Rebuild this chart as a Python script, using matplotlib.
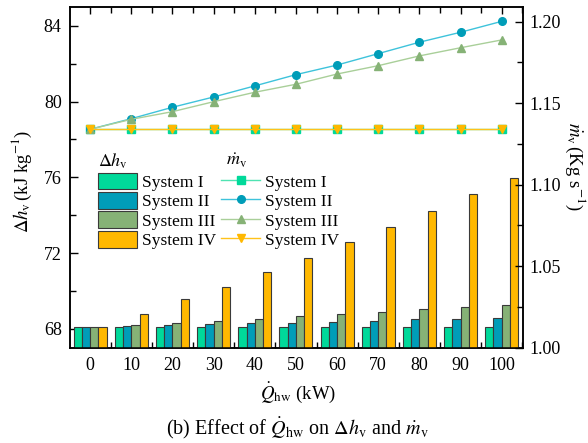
import matplotlib
matplotlib.use('Agg')
import matplotlib.pyplot as plt
import numpy as np
from matplotlib.ticker import MultipleLocator, FixedLocator

plt.rcParams['font.family'] = ['Liberation Serif', 'DejaVu Serif']
plt.rcParams['mathtext.fontset'] = 'stix'

# ---------------- data ----------------
q_hw = [0, 10, 20, 30, 40, 50, 60, 70, 80, 90, 100]
systems = ['System I', 'System II', 'System III', 'System IV']

dh_I = [68.07, 68.07, 68.07, 68.07, 68.07, 68.07, 68.07, 68.07, 68.07, 68.07, 68.07]
dh_II = [68.07, 68.14, 68.21, 68.25, 68.30, 68.32, 68.38, 68.42, 68.49, 68.54, 68.58]
dh_III = [68.07, 68.21, 68.30, 68.42, 68.54, 68.67, 68.77, 68.90, 69.04, 69.14, 69.25]
dh_IV = [68.07, 68.77, 69.56, 70.23, 70.98, 71.75, 72.56, 73.38, 74.20, 75.10, 75.96]

m_I = [1.134, 1.134, 1.134, 1.134, 1.134, 1.134, 1.134, 1.134, 1.134, 1.134, 1.134]
m_II = [1.134, 1.1405, 1.1475, 1.1538, 1.1606, 1.1675, 1.1734, 1.1804, 1.1874, 1.1935, 1.2002]
m_III = [1.134, 1.1401, 1.1448, 1.1509, 1.1567, 1.1616, 1.1679, 1.1730, 1.1790, 1.1840, 1.1888]
m_IV = [1.134, 1.134, 1.134, 1.134, 1.134, 1.134, 1.134, 1.134, 1.134, 1.134, 1.134]

bar_colors = ['#00D99A', '#009DB8', '#86B276', '#FFB800']
line_colors = ['#4FE3B2', '#3EC3DB', '#A9CF99', '#FFC21A']
markers = ['s', 'o', '^', 'v']

# ---------------- figure ----------------
fig = plt.figure(figsize=(5.88, 4.43), dpi=100)
ax = fig.add_axes([70/588, 1-347.7/443, 452.7/588, 340.7/443])
ax2 = ax.twinx()

x = np.arange(len(q_hw))
width = 0.2
dh_all = [dh_I, dh_II, dh_III, dh_IV]
bar_handles = []
for i, (vals, c, lab) in enumerate(zip(dh_all, bar_colors, systems)):
    b = ax.bar(x + (i - 1.5) * width, vals, width, color=c, edgecolor='#3a3a3a',
               linewidth=0.8, label=lab, zorder=3)
    bar_handles.append(b)

m_all = [m_I, m_II, m_III, m_IV]
line_handles = []
for vals, lc, mc, mk, lab in zip(m_all, line_colors, bar_colors, markers, systems):
    l, = ax2.plot(x, vals, color=lc, linewidth=1.0, marker=mk, markersize=5.5,
                  markerfacecolor=mc, markeredgecolor=mc, label=lab, zorder=4)
    line_handles.append(l)

ax.set_xlim(-0.49, 10.51)
ax.set_ylim(67, 85)
ax2.set_ylim(1.00, 1.209)

ax.set_xticks(x)
ax.set_xticklabels([str(v) for v in q_hw])
ax.xaxis.set_minor_locator(FixedLocator(np.arange(-0.5, 11, 1.0)))
ax.tick_params(axis='x', which='major', direction='in', top=True, bottom=False,
               length=5, width=1, labelsize=13, pad=7)
ax.tick_params(axis='x', which='minor', direction='in', top=True, bottom=True,
               length=4, width=1)

ax.yaxis.set_major_locator(MultipleLocator(4))
ax.yaxis.set_minor_locator(MultipleLocator(2))
ax.tick_params(axis='y', which='major', direction='in', length=6, width=1,
               labelsize=13, pad=6, right=False)
ax.tick_params(axis='y', which='minor', direction='in', length=4, width=1, right=False)

ax2.yaxis.set_major_locator(MultipleLocator(0.05))
ax2.yaxis.set_minor_locator(MultipleLocator(0.025))
ax2.tick_params(axis='y', which='major', direction='in', length=6, width=1,
                labelsize=13, pad=5)
ax2.tick_params(axis='y', which='minor', direction='in', length=4, width=1)
ax2.set_yticklabels([f'{v:.2f}' for v in ax2.get_yticks()])

for a in (ax, ax2):
    for s in a.spines.values():
        s.set_linewidth(1.1)

# legend
handles = bar_handles + line_handles
labels = systems + systems
leg = ax2.legend(handles, labels, ncol=2, loc='upper left',
                 bbox_to_anchor=(0.062, 0.514), frameon=False, fontsize=12.5,
                 handlelength=2.25, handleheight=1.12, handletextpad=0.28,
                 labelspacing=0.06, columnspacing=0.3, borderpad=0,
                 borderaxespad=0)
ax2.text(0.062, 0.548, r'$\Delta h_{\mathrm{v}}$', transform=ax2.transAxes,
         fontsize=13, ha='left', va='center')
ax2.text(0.368, 0.548, r'$\dot{m}_{\mathrm{v}}$', transform=ax2.transAxes,
         fontsize=13, ha='center', va='center')

# axis labels and caption
fig.text(22/588, 1-181/443, r'$\Delta h_{\mathrm{v}}\,$(kJ kg$^{-1}$)', rotation=90,
         ha='center', va='center', fontsize=13.5)
fig.text(575/588, 1-166/443, r'$\dot{m}_{\mathrm{v}}\,$(Kg s$^{-1}$)', rotation=270,
         ha='center', va='center', fontsize=13.5)
fig.text(298/588, 1-393/443, r'$\dot{Q}_{\mathrm{hw}}$ (kW)', ha='center', va='center',
         fontsize=13.5)
fig.text(297/588, 1-428/443,
         r'(b) Effect of $\dot{Q}_{\mathrm{hw}}$ on $\Delta h_{\mathrm{v}}$ and $\dot{m}_{\mathrm{v}}$',
         ha='center', va='center', fontsize=14.5)

fig.savefig('out.png', dpi=100)
